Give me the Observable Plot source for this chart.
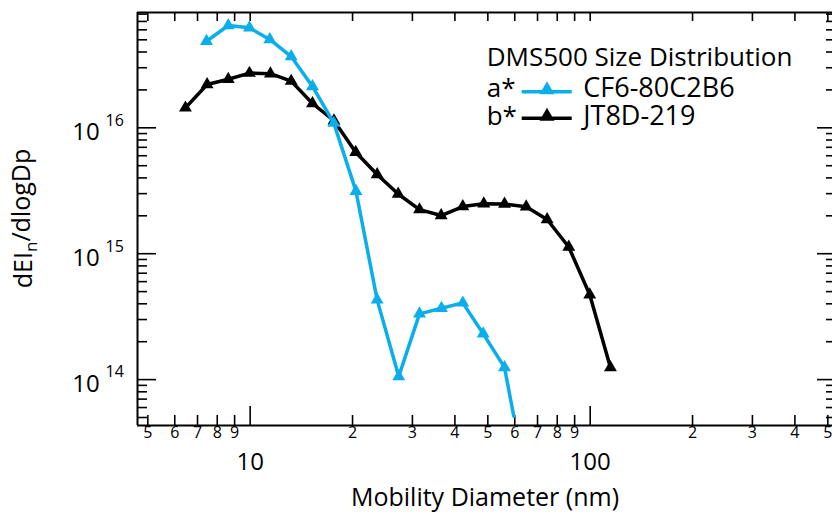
<!DOCTYPE html>
<html>
<head>
<meta charset="utf-8">
<script src="https://cdn.jsdelivr.net/npm/d3@7"></script>
<script src="https://cdn.jsdelivr.net/npm/@observablehq/plot@0.6"></script>
<style>
  body { margin: 0; background: #fff; overflow: hidden; }
  #wrap { position: relative; width: 832px; height: 512px; }
  #overlay { position: absolute; left: 0; top: 0; pointer-events: none; }
</style>
</head>
<body>
<div id="wrap"></div>
<script>
// ---- data ----
const cf6Diameter = [7.44, 8.62, 9.95, 11.42, 13.20, 15.25, 17.62, 20.47, 23.63, 27.35, 31.48, 36.52, 42.20, 48.45, 55.98, 59.6];
const cf6dEI      = [4.87e16, 6.50e16, 6.23e16, 5.03e16, 3.68e16, 2.13e16, 1.09e16, 3.14e15, 4.30e14, 1.06e14, 3.33e14, 3.69e14, 4.07e14, 2.31e14, 1.25e14, 5.12e13];
const jt8dDiameter = [6.45, 7.47, 8.62, 9.95, 11.47, 13.20, 15.25, 17.64, 20.44, 23.63, 27.24, 31.48, 36.45, 42.20, 48.64, 55.98, 64.83, 74.71, 86.49, 99.7, 114.7];
const jt8ddEI      = [1.44e16, 2.21e16, 2.43e16, 2.72e16, 2.69e16, 2.35e16, 1.56e16, 1.14e16, 6.40e15, 4.26e15, 2.98e15, 2.24e15, 2.01e15, 2.37e15, 2.49e15, 2.48e15, 2.36e15, 1.87e15, 1.13e15, 4.72e14, 1.25e14];

const seriesTags   = ["a*", "b*"];
const seriesNames  = ["CF6-80C2B6", "JT8D-219"];
const seriesColors = ["#0aaeea", "#000000"];
const legendTitle  = "DMS500 Size Distribution";

const xMinorTicks  = [5, 6, 7, 8, 9, 20, 30, 40, 50, 60, 70, 80, 90, 200, 300, 400, 500];
const xMinorLabels = ["5", "6", "7", "8", "9", "2", "3", "4", "5", "6", "7", "8", "9", "2", "3", "4", "5"];
const xMajorTicks  = [10, 100];
const xMajorLabels = ["10", "100"];
const yMajorTicks  = [1e14, 1e15, 1e16];
const yMajorBase   = ["10", "10", "10"];
const yMajorExp    = ["14", "15", "16"];
const yMinorTicks  = [5e13, 6e13, 7e13, 8e13, 9e13,
                      2e14, 3e14, 4e14, 5e14, 6e14, 7e14, 8e14, 9e14,
                      2e15, 3e15, 4e15, 5e15, 6e15, 7e15, 8e15, 9e15,
                      2e16, 3e16, 4e16, 5e16, 6e16, 7e16, 8e16];
const xLabel = "Mobility Diameter (nm)";
const yLabelMain = "dEI", yLabelSub = "n", yLabelRest = "/dlogDp";

const xDomain = [4.662, 516];
const yDomain = [4.32e13, 8.24e16];

// ---- layout ----
const W = 832, H = 512, mT = 12, mB = 87, mL = 137, mR = 0;
const pw = W - mL - mR, ph = H - mT - mB;
const FONT = "'Open Sans', sans-serif";

const cf6 = cf6Diameter.map((d, i) => ({d, v: cf6dEI[i]}));
const jt8d = jt8dDiameter.map((d, i) => ({d, v: jt8ddEI[i]}));
// the last CF6 value sits at the plot's lower edge and carries no marker in the original
const cf6Markers = cf6.slice(0, cf6.length - 1);

const tickStyle = {stroke: "#000", strokeWidth: 1.6};

const chart = Plot.plot({
  width: W, height: H,
  marginTop: mT, marginBottom: mB, marginLeft: mL, marginRight: mR,
  style: {fontFamily: FONT, color: "#000", background: "#fff"},
  x: {type: "log", domain: xDomain, axis: null},
  y: {type: "log", domain: yDomain, axis: null},
  marks: [
    // frame
    Plot.ruleX([xDomain[0]], {stroke: "#000", strokeWidth: 2}),
    Plot.ruleY([yDomain[0]], {stroke: "#000", strokeWidth: 2}),
    Plot.ruleY([yDomain[1]], {stroke: "#000", strokeWidth: 2}),
    // bottom ticks (inward)
    Plot.tickX(xMinorTicks, {x: d => d, insetTop: ph - 10, ...tickStyle}),
    Plot.tickX(xMajorTicks, {x: d => d, insetTop: ph - 19, ...tickStyle}),
    // top ticks (inward)
    Plot.tickX(xMinorTicks.concat(xMajorTicks), {x: d => d, insetBottom: ph - 9, ...tickStyle}),
    // left ticks
    Plot.tickY(yMinorTicks, {y: d => d, insetRight: pw - 10, ...tickStyle}),
    Plot.tickY(yMajorTicks, {y: d => d, insetRight: pw - 19, ...tickStyle}),
    // right ticks (frame lies just beyond the picture edge)
    Plot.tickY(yMinorTicks, {y: d => d, insetLeft: pw - 6, ...tickStyle}),
    Plot.tickY(yMajorTicks, {y: d => d, insetLeft: pw - 15, ...tickStyle}),
    // x tick labels
    Plot.text(xMinorTicks, {x: d => d, text: (d, i) => xMinorLabels[i], frameAnchor: "bottom", lineAnchor: "middle", dy: 7, fontSize: 16}),
    Plot.text(xMajorTicks, {x: d => d, text: (d, i) => xMajorLabels[i], frameAnchor: "bottom", lineAnchor: "middle", dy: 36.5, fontSize: 24}),
    // y tick labels
    Plot.text(yMajorTicks, {y: d => d, text: (d, i) => yMajorBase[i], frameAnchor: "left", textAnchor: "end", lineAnchor: "middle", dx: -37.7, dy: 4.7, fontSize: 24}),
    Plot.text(yMajorTicks, {y: d => d, text: (d, i) => yMajorExp[i], frameAnchor: "left", textAnchor: "start", lineAnchor: "middle", dx: -32, dy: -7.3, fontSize: 16}),
    // x axis title
    Plot.text([xLabel], {text: d => d, frameAnchor: "bottom", lineAnchor: "middle", dy: 72.5, fontSize: 25}),
    // series
    Plot.line(jt8d, {x: "d", y: "v", stroke: seriesColors[1], strokeWidth: 3.5}),
    Plot.dot(jt8d, {x: "d", y: "v", symbol: "triangle", r: 4.8, fill: seriesColors[1], stroke: "none"}),
    Plot.line(cf6, {x: "d", y: "v", stroke: seriesColors[0], strokeWidth: 3.5}),
    Plot.dot(cf6Markers, {x: "d", y: "v", symbol: "triangle", r: 4.8, fill: seriesColors[0], stroke: "none"})
  ]
});

const wrap = document.getElementById("wrap");
wrap.appendChild(chart);

// ---- overlay: rotated y title with subscript, and the legend ----
const ov = d3.select(wrap).append("svg").attr("id", "overlay")
  .attr("width", W).attr("height", H)
  .style("font-family", FONT);

const yt = ov.append("text")
  .attr("transform", `translate(32,${(mT + H - mB) / 2}) rotate(-90)`)
  .attr("text-anchor", "middle").attr("font-size", 25);
yt.append("tspan").text(yLabelMain);
yt.append("tspan").attr("dy", "0.3em").attr("font-size", "0.68em").text(yLabelSub);
yt.append("tspan").attr("dy", "-0.3em").text(yLabelRest);

ov.append("text").attr("x", 486.7).attr("y", 66).attr("font-size", 26).text(legendTitle);
const rowBase = [96.5, 125];
const rowLine = [91.7, 118.3];
seriesNames.forEach((name, i) => {
  ov.append("text").attr("x", 486.7).attr("y", rowBase[i]).attr("font-size", 26).text(seriesTags[i]);
  ov.append("line").attr("x1", 521.7).attr("x2", 571.7).attr("y1", rowLine[i]).attr("y2", rowLine[i])
    .attr("stroke", seriesColors[i]).attr("stroke-width", 3.5);
  const cx = 547, by = rowLine[i] + 2.5;
  ov.append("path").attr("d", `M${cx},${by - 13}L${cx + 7.5},${by}L${cx - 7.5},${by}Z`).attr("fill", seriesColors[i]);
  ov.append("text").attr("x", 583.3).attr("y", rowBase[i]).attr("font-size", 27).text(name);
});
</script>
</body>
</html>
